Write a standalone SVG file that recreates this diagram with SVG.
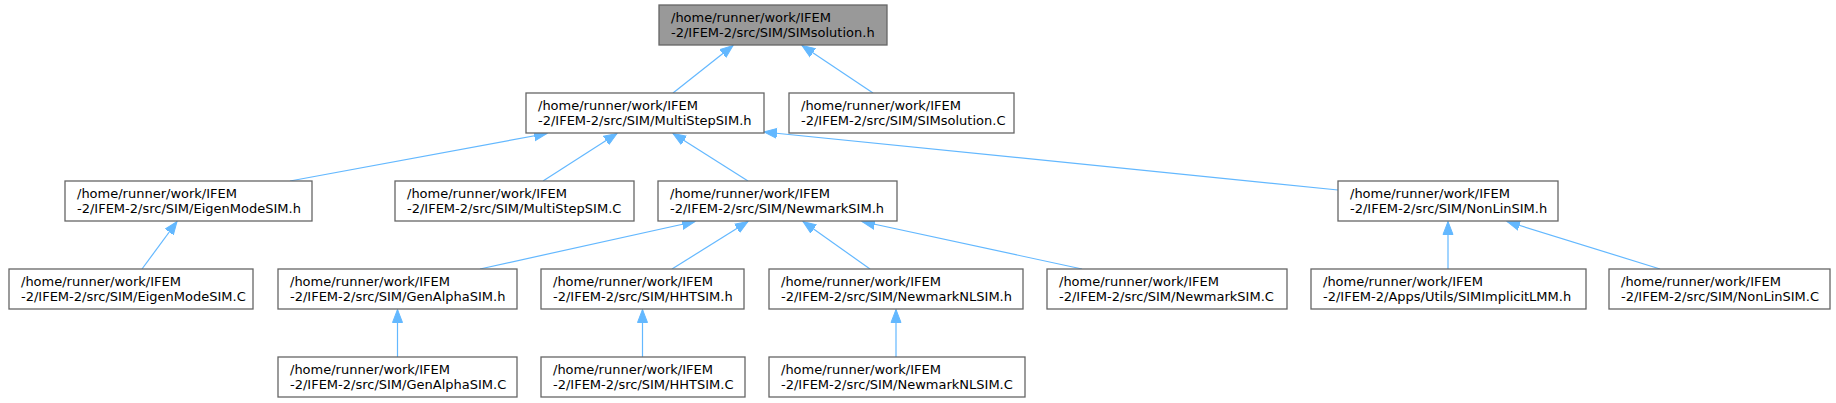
<svg xmlns="http://www.w3.org/2000/svg" width="1836" height="403" viewBox="0 0 1836 403">
<style>
.n rect{fill:#ffffff;stroke:#666666;stroke-width:1.3}
.n.main rect{fill:#999999}
.n text{font-family:"DejaVu Sans",sans-serif;font-size:13px;fill:#000000}
.e line{stroke:#63b8ff;stroke-width:1.2;fill:none}
</style>
<defs>
<marker id="arr" markerUnits="userSpaceOnUse" markerWidth="14" markerHeight="12" viewBox="0 -6 14 12" refX="13" refY="0" orient="auto">
<path d="M0,-5 L13,0 L0,5 z" fill="#63b8ff" stroke="#63b8ff" stroke-width="1"/>
</marker>
</defs>
<rect width="1836" height="403" fill="#ffffff"/>
<g id="edges" class="e" marker-end="url(#arr)">
<line x1="673" y1="93" x2="733" y2="45.5" marker-end="url(#arr)"/>
<line x1="873" y1="93" x2="802" y2="45.5" marker-end="url(#arr)"/>
<line x1="290" y1="181" x2="547" y2="133.5" marker-end="url(#arr)"/>
<line x1="543" y1="181" x2="617" y2="133.5" marker-end="url(#arr)"/>
<line x1="748" y1="181" x2="673" y2="133.5" marker-end="url(#arr)"/>
<line x1="1338" y1="190" x2="764" y2="132" marker-end="url(#arr)"/>
<line x1="142" y1="269" x2="177" y2="221.5" marker-end="url(#arr)"/>
<line x1="480" y1="269" x2="695" y2="221.5" marker-end="url(#arr)"/>
<line x1="672" y1="269" x2="748" y2="221.5" marker-end="url(#arr)"/>
<line x1="870" y1="269" x2="803" y2="221.5" marker-end="url(#arr)"/>
<line x1="1082" y1="269" x2="862" y2="221.5" marker-end="url(#arr)"/>
<line x1="1448" y1="269" x2="1448" y2="221.5" marker-end="url(#arr)"/>
<line x1="1660" y1="269" x2="1507" y2="221.5" marker-end="url(#arr)"/>
<line x1="397.5" y1="357" x2="397.5" y2="309.5" marker-end="url(#arr)"/>
<line x1="642.5" y1="357" x2="642.5" y2="309.5" marker-end="url(#arr)"/>
<line x1="896" y1="357" x2="896" y2="309.5" marker-end="url(#arr)"/>
</g>
<g id="node_SIMsolution_h" class="n main"><rect x="659" y="5" width="228" height="40"/><text x="671" y="21.5">/home/runner/work/IFEM</text><text x="671" y="36.5">-2/IFEM-2/src/SIM/SIMsolution.h</text></g>
<g id="node_MultiStepSIM_h" class="n"><rect x="526" y="93" width="238" height="40"/><text x="538" y="109.5">/home/runner/work/IFEM</text><text x="538" y="124.5">-2/IFEM-2/src/SIM/MultiStepSIM.h</text></g>
<g id="node_SIMsolution_C" class="n"><rect x="789" y="93" width="225" height="40"/><text x="801" y="109.5">/home/runner/work/IFEM</text><text x="801" y="124.5">-2/IFEM-2/src/SIM/SIMsolution.C</text></g>
<g id="node_EigenModeSIM_h" class="n"><rect x="65" y="181" width="247" height="40"/><text x="77" y="197.5">/home/runner/work/IFEM</text><text x="77" y="212.5">-2/IFEM-2/src/SIM/EigenModeSIM.h</text></g>
<g id="node_MultiStepSIM_C" class="n"><rect x="395" y="181" width="239" height="40"/><text x="407" y="197.5">/home/runner/work/IFEM</text><text x="407" y="212.5">-2/IFEM-2/src/SIM/MultiStepSIM.C</text></g>
<g id="node_NewmarkSIM_h" class="n"><rect x="658" y="181" width="239" height="40"/><text x="670" y="197.5">/home/runner/work/IFEM</text><text x="670" y="212.5">-2/IFEM-2/src/SIM/NewmarkSIM.h</text></g>
<g id="node_NonLinSIM_h" class="n"><rect x="1338" y="181" width="220" height="40"/><text x="1350" y="197.5">/home/runner/work/IFEM</text><text x="1350" y="212.5">-2/IFEM-2/src/SIM/NonLinSIM.h</text></g>
<g id="node_EigenModeSIM_C" class="n"><rect x="9" y="269" width="244" height="40"/><text x="21" y="285.5">/home/runner/work/IFEM</text><text x="21" y="300.5">-2/IFEM-2/src/SIM/EigenModeSIM.C</text></g>
<g id="node_GenAlphaSIM_h" class="n"><rect x="278" y="269" width="239" height="40"/><text x="290" y="285.5">/home/runner/work/IFEM</text><text x="290" y="300.5">-2/IFEM-2/src/SIM/GenAlphaSIM.h</text></g>
<g id="node_HHTSIM_h" class="n"><rect x="541" y="269" width="203" height="40"/><text x="553" y="285.5">/home/runner/work/IFEM</text><text x="553" y="300.5">-2/IFEM-2/src/SIM/HHTSIM.h</text></g>
<g id="node_NewmarkNLSIM_h" class="n"><rect x="769" y="269" width="254" height="40"/><text x="781" y="285.5">/home/runner/work/IFEM</text><text x="781" y="300.5">-2/IFEM-2/src/SIM/NewmarkNLSIM.h</text></g>
<g id="node_NewmarkSIM_C" class="n"><rect x="1047" y="269" width="240" height="40"/><text x="1059" y="285.5">/home/runner/work/IFEM</text><text x="1059" y="300.5">-2/IFEM-2/src/SIM/NewmarkSIM.C</text></g>
<g id="node_SIMImplicitLMM_h" class="n"><rect x="1311" y="269" width="275" height="40"/><text x="1323" y="285.5">/home/runner/work/IFEM</text><text x="1323" y="300.5">-2/IFEM-2/Apps/Utils/SIMImplicitLMM.h</text></g>
<g id="node_NonLinSIM_C" class="n"><rect x="1609" y="269" width="221" height="40"/><text x="1621" y="285.5">/home/runner/work/IFEM</text><text x="1621" y="300.5">-2/IFEM-2/src/SIM/NonLinSIM.C</text></g>
<g id="node_GenAlphaSIM_C" class="n"><rect x="278" y="357" width="239" height="40"/><text x="290" y="373.5">/home/runner/work/IFEM</text><text x="290" y="388.5">-2/IFEM-2/src/SIM/GenAlphaSIM.C</text></g>
<g id="node_HHTSIM_C" class="n"><rect x="541" y="357" width="204" height="40"/><text x="553" y="373.5">/home/runner/work/IFEM</text><text x="553" y="388.5">-2/IFEM-2/src/SIM/HHTSIM.C</text></g>
<g id="node_NewmarkNLSIM_C" class="n"><rect x="769" y="357" width="256" height="40"/><text x="781" y="373.5">/home/runner/work/IFEM</text><text x="781" y="388.5">-2/IFEM-2/src/SIM/NewmarkNLSIM.C</text></g>
</svg>
